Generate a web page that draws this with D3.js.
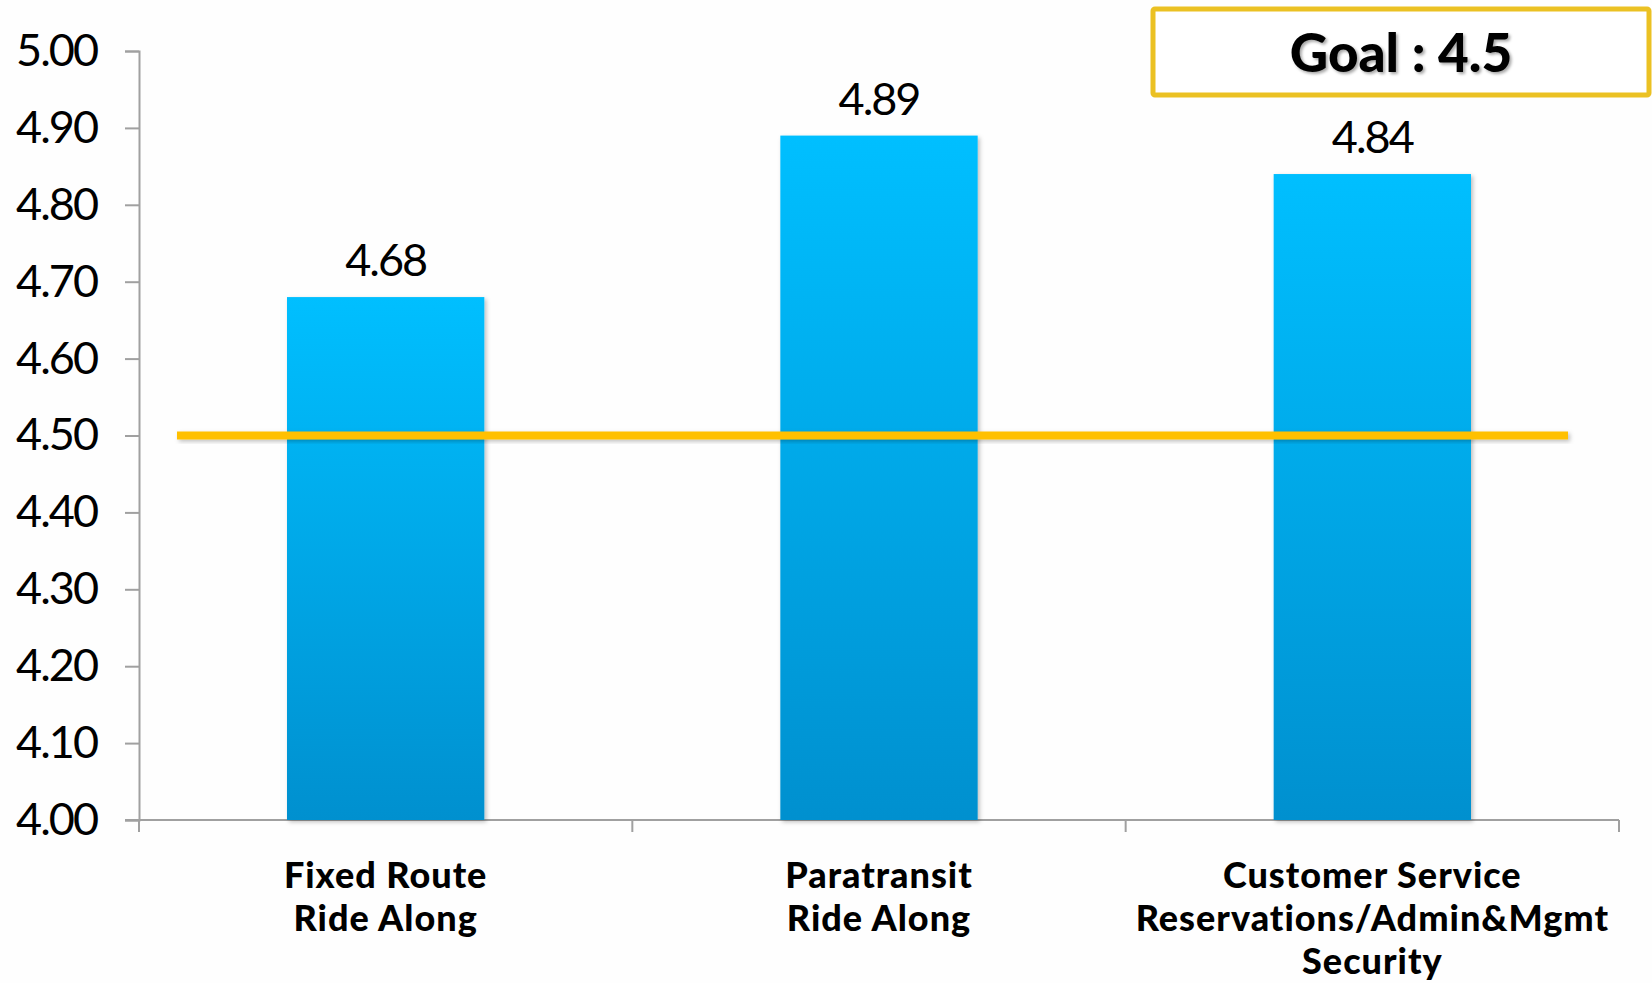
<!DOCTYPE html>
<html>
<head>
<meta charset="utf-8">
<script src="https://cdn.jsdelivr.net/npm/d3@7"></script>
<style>
  body { margin: 0; background: #fefefe; }
  svg { display: block; font-family: "Gill Sans MT", "Gill Sans", Lato, sans-serif; }
</style>
</head>
<body>
<svg id="chart" width="1652" height="983"></svg>
<script>
// data
var categories = [
	["Fixed Route", "Ride Along"],
	["Paratransit", "Ride Along"],
	["Customer Service", "Reservations/Admin&Mgmt", "Security"],
];
var scores = [4.68, 4.89, 4.84];
var goal = 4.5;
var yTicks = [4.0, 4.1, 4.2, 4.3, 4.4, 4.5, 4.6, 4.7, 4.8, 4.9, 5.0];

var svg = d3.select("#chart");
var plotLeft = 139, plotRight = 1619, plotTop = 51, plotBottom = 820;

var x = d3.scaleBand().domain(d3.range(scores.length)).range([plotLeft, plotRight]);
var y = d3.scaleLinear().domain([4, 5]).range([plotBottom, plotTop]);
var barW = x.bandwidth() * 0.4;

var defs = svg.append("defs");
var grad = defs.append("linearGradient")
	.attr("id", "barGrad")
	.attr("x1", 0).attr("y1", 0).attr("x2", 0).attr("y2", 1);
grad.append("stop").attr("offset", "0%").attr("stop-color", "#00bfff");
grad.append("stop").attr("offset", "100%").attr("stop-color", "#0090cf");

var shadow = defs.append("filter").attr("id", "shadow")
	.attr("x", "-10%").attr("y", "-50%").attr("width", "130%").attr("height", "200%");
shadow.append("feDropShadow")
	.attr("dx", 2).attr("dy", 2).attr("stdDeviation", 2)
	.attr("flood-color", "#000").attr("flood-opacity", 0.25);

var textShadow = defs.append("filter").attr("id", "textShadow");
textShadow.append("feDropShadow")
	.attr("dx", 2).attr("dy", 2).attr("stdDeviation", 1.5)
	.attr("flood-color", "#000").attr("flood-opacity", 0.35);

// y axis
var yAxis = svg.append("g")
	.attr("transform", "translate(" + plotLeft + ",0)")
	.call(d3.axisLeft(y).tickValues(yTicks).tickFormat(d3.format(".2f")).tickSize(14).tickPadding(28));
yAxis.select(".domain").attr("stroke", "#a0a0a0").attr("stroke-width", 2);
yAxis.selectAll(".tick line").attr("stroke", "#a0a0a0").attr("stroke-width", 2);
yAxis.selectAll(".tick text")
	.attr("fill", "#000")
	.style("font-size", "45px")
	.style("font-family", "Lato, sans-serif")
	.style("letter-spacing", "-2px");

// x axis: line plus category ticks
svg.append("line")
	.attr("x1", plotLeft - 14).attr("x2", plotRight)
	.attr("y1", plotBottom).attr("y2", plotBottom)
	.attr("stroke", "#a0a0a0").attr("stroke-width", 2);
svg.selectAll(".xtick")
	.data(d3.range(scores.length + 1))
	.enter().append("line")
	.attr("class", "xtick")
	.attr("x1", function (d) { return plotLeft + d * x.step(); })
	.attr("x2", function (d) { return plotLeft + d * x.step(); })
	.attr("y1", plotBottom).attr("y2", plotBottom + 12)
	.attr("stroke", "#a0a0a0").attr("stroke-width", 2);

// bars
svg.selectAll(".bar")
	.data(scores)
	.enter().append("rect")
	.attr("class", "bar")
	.attr("x", function (d, i) { return x(i) + (x.bandwidth() - barW) / 2; })
	.attr("width", barW)
	.attr("y", function (d) { return y(d); })
	.attr("height", function (d) { return plotBottom - y(d); })
	.attr("fill", "url(#barGrad)")
	.attr("filter", "url(#shadow)");

// value labels
svg.selectAll(".val")
	.data(scores)
	.enter().append("text")
	.attr("class", "val")
	.attr("x", function (d, i) { return x(i) + x.bandwidth() / 2; })
	.attr("y", function (d) { return y(d) - 21; })
	.attr("text-anchor", "middle")
	.style("font-size", "45px")
	.style("font-family", "Lato, sans-serif")
	.style("letter-spacing", "-2px")
	.text(function (d) { return d.toFixed(2); });

// goal line (a thin rect so the shadow filter has a box to work with)
svg.append("rect")
	.attr("x", plotLeft + 38).attr("width", (plotRight - 51) - (plotLeft + 38))
	.attr("y", y(goal) - 4).attr("height", 8)
	.attr("fill", "#ffc000")
	.attr("filter", "url(#shadow)");

// category labels
var cat = svg.selectAll(".cat")
	.data(categories)
	.enter().append("text")
	.attr("class", "cat")
	.attr("text-anchor", "middle")
	.style("font-size", "36px")
	.style("font-weight", "900")
	.style("font-family", "Lato, sans-serif")
	.style("letter-spacing", "1px");
cat.selectAll("tspan")
	.data(function (d, i) { return d.map(function (s) { return { s: s, i: i }; }); })
	.enter().append("tspan")
	.attr("x", function (d) { return x(d.i) + x.bandwidth() / 2; })
	.attr("y", function (d, j) { return 888 + j * 43; })
	.text(function (d) { return d.s; });

// goal box
svg.append("rect")
	.attr("x", 1153).attr("y", 9)
	.attr("width", 496).attr("height", 86)
	.attr("fill", "#fff")
	.attr("stroke", "#ebc123").attr("stroke-width", 5)
	.attr("rx", 2);
svg.append("text")
	.attr("x", 1401).attr("y", 72)
	.attr("text-anchor", "middle")
	.style("font-size", "53px")
	.style("font-weight", "900")
	.style("font-family", "Lato, sans-serif")
	.attr("filter", "url(#textShadow)")
	.text("Goal : " + goal);
</script>
</body>
</html>
